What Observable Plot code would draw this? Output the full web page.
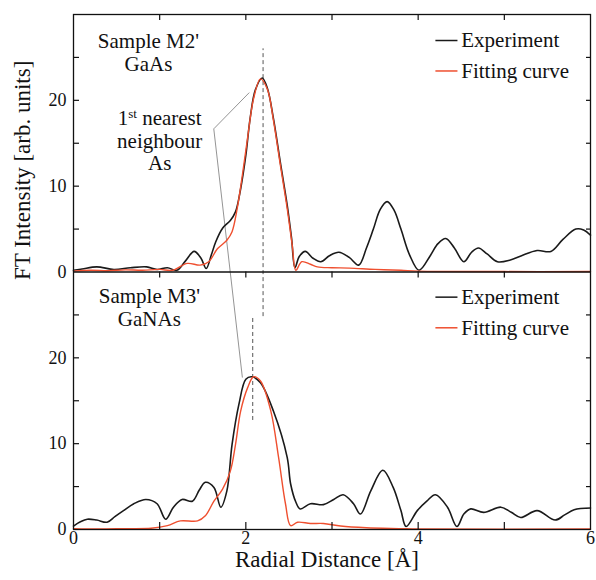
<!DOCTYPE html>
<html><head><meta charset="utf-8">
<script src="https://cdn.jsdelivr.net/npm/d3@7"></script>
<script src="https://cdn.jsdelivr.net/npm/@observablehq/plot@0.6"></script>
<style>
body{margin:0;background:#fff}
svg, svg text, svg tspan {font-family: "Liberation Serif", "Times New Roman", serif !important;}
</style>
</head><body><div id="chart"></div>
<script>
// ---- data (radial distance in Å, FT intensity in arb. units) ----
const m2ExpR  = [0,0.1,0.27,0.47,0.66,0.85,0.97,1.09,1.2,1.3,1.4,1.48,1.54,1.6,1.65,1.73,1.82,1.88,1.94,2.0,2.05,2.11,2.19,2.25,2.32,2.4,2.48,2.53,2.57,2.62,2.69,2.78,2.87,2.97,3.08,3.2,3.31,3.4,3.48,3.56,3.64,3.72,3.8,3.9,4.01,4.14,4.23,4.32,4.42,4.53,4.62,4.7,4.8,4.92,5.07,5.2,5.38,5.54,5.68,5.83,5.92,6.0];
const m2ExpFT = [0.2,0.35,0.6,0.3,0.5,0.6,0.3,0.5,0.2,1.3,2.4,1.6,0.4,2.0,3.5,5.1,6.0,7.0,9.7,13.6,17.9,21.2,22.6,21.4,17.9,12.8,7.8,4.0,0.5,1.8,2.4,1.6,1.2,1.9,2.3,1.7,0.8,2.8,5.0,7.3,8.2,7.2,5.0,2.0,0.2,1.9,3.3,3.9,2.8,1.2,2.3,2.8,2.1,1.2,1.4,1.9,2.5,2.4,3.8,5.0,4.9,4.3];
const m2FitR  = [0,0.2,0.4,0.6,0.8,1.0,1.15,1.32,1.47,1.57,1.67,1.78,1.84,1.9,1.96,2.02,2.09,2.17,2.25,2.32,2.4,2.48,2.54,2.58,2.65,2.75,2.83,3.0,3.2,3.5,3.8,4.0,5.0,6.0];
const m2FitFT = [0.1,0.2,0.15,0.25,0.2,0.3,0.2,1.0,0.8,1.2,2.7,3.7,4.7,7.4,11.3,15.6,20.2,22.5,21.3,17.7,12.5,7.4,3.0,0.2,1.2,0.9,0.6,0.5,0.45,0.3,0.2,0.1,0.05,0.05];
const m3ExpR  = [0,0.08,0.16,0.27,0.39,0.48,0.58,0.7,0.84,0.97,1.07,1.16,1.26,1.38,1.46,1.53,1.63,1.71,1.78,1.84,1.92,2.0,2.07,2.17,2.32,2.48,2.52,2.58,2.63,2.75,2.9,3.02,3.13,3.25,3.33,3.45,3.59,3.71,3.8,3.86,3.99,4.1,4.2,4.34,4.45,4.53,4.61,4.76,4.96,5.08,5.19,5.38,5.59,5.7,5.81,6.0];
const m3ExpFT = [0.4,0.9,1.2,1.1,0.85,1.5,2.2,3.0,3.5,3.0,1.2,2.6,3.5,3.3,4.6,5.5,4.9,2.6,4.5,9.9,14.6,17.5,17.8,17.1,13.8,8.4,5.3,3.2,2.4,3.0,2.9,3.5,4.05,3.0,1.8,4.5,6.9,4.9,2.2,0.35,2.2,3.3,4.05,2.6,0.35,1.8,2.4,2.0,2.6,2.0,1.4,2.2,1.1,1.7,2.3,2.5];
const m3FitR  = [0,0.3,0.6,0.9,1.09,1.24,1.44,1.53,1.63,1.73,1.82,1.88,1.94,2.02,2.09,2.17,2.29,2.38,2.46,2.52,2.6,2.75,2.9,3.1,3.4,3.8,4.0,6.0];
const m3FitFT = [0.1,0.05,0.1,0.15,0.45,1.0,1.0,1.6,3.3,4.7,6.8,9.9,13.8,16.5,17.8,17.3,13.8,8.4,3.0,0.45,0.85,0.7,0.7,0.4,0.2,0.1,0.05,0.05];

const panels = ["M2'", "M3'"];              // top, bottom
const panelTitles = ["Sample M2'\nGaAs", "Sample M3'\nGaNAs"];
const seriesNames = ["Experiment", "Fitting curve"];
const seriesColors = ["#1a1a1a", "#ef4f2f"];
const xTickLabels = [0, 2, 4, 6];
const yTickLabels = [0, 10, 20];
const peakR = [2.2, 2.08];                  // dashed markers (Å)

// ---- build table ----
const panelSpan = 30;                        // each panel spans 0–30 arb. units
const offset = p => (p === 0 ? panelSpan : 0);
function rows(R, V, panel, series) {
  return R.map((r, i) => ({r, v: V[i], y: V[i] + offset(panel), panel, series}));
}
const data = [
  ...rows(m2ExpR, m2ExpFT, 0, 0), ...rows(m2FitR, m2FitFT, 0, 1),
  ...rows(m3ExpR, m3ExpFT, 1, 0), ...rows(m3FitR, m3FitFT, 1, 1)
];

// ---- layout ----
const W = 596, H = 580, mL = 73, mR = 6, mT = 14, mB = 51;
const fw = W - mL - mR, fh = H - mT - mB;
const serif = "Liberation Serif";

const yAll = [];
for (let p = 0; p < 2; p++) yTickLabels.forEach(t => yAll.push(t + offset(p)));
const yMinor = d3.range(5, 2 * panelSpan, 5).filter(d => d !== panelSpan);
const xMinor = [1, 2, 3, 4, 5];

// annotation placement (data coordinates)
const titles = panelTitles.map((t, p) => ({t, x: p === 0 ? 0.87 : 0.88, y: (p === 0 ? 25.63 : 25.92) + offset(p)}));
const legend = [];
panels.forEach((_, p) => seriesNames.forEach((s, k) => legend.push({
  s, k, y: [[26.97, 23.42], [27.07, 23.5]][p][k] + offset(p)
})));
const dashes = [
  {x: peakR[0], y1: 24.8, y2: 26 + offset(0)},
  {x: peakR[1], y1: 12.7, y2: 24.6}
];
const pointer = [
  {x1: 1.628, y1: 46.68, x2: 2.04, y2: 50.9},
  {x1: 1.628, y1: 46.68, x2: 1.96, y2: 17.7}
];

const chart = Plot.plot({
  width: W, height: H,
  marginLeft: mL, marginRight: mR, marginTop: mT, marginBottom: mB,
  style: {fontFamily: serif, fontSize: "18px", color: "#111", background: "#fff"},
  x: {domain: [0, 6]},
  y: {domain: [0, 2 * panelSpan]},
  marks: [
    Plot.ruleX(dashes, {x: "x", y1: "y1", y2: "y2", stroke: "#555", strokeWidth: 1, strokeDasharray: "4,3"}),
    Plot.link(pointer, {x1: "x1", y1: "y1", x2: "x2", y2: "y2", stroke: "#888", strokeWidth: 0.9}),
    Plot.line(data.filter(d => d.series === 0), {x: "r", y: "y", z: "panel", stroke: seriesColors[0], strokeWidth: 1.6, curve: "catmull-rom"}),
    Plot.line(data.filter(d => d.series === 1), {x: "r", y: "y", z: "panel", stroke: seriesColors[1], strokeWidth: 1.4, curve: "catmull-rom"}),
    Plot.frame({stroke: "#111", strokeWidth: 1.3}),
    Plot.ruleY([panelSpan], {stroke: "#111", strokeWidth: 1.3}),
    // inward ticks
    Plot.tickY(yMinor, {y: d => d, insetRight: fw - 6, stroke: "#111", strokeWidth: 1.2}),
    Plot.tickY(yMinor, {y: d => d, insetLeft: fw - 4, stroke: "#111", strokeWidth: 1.2}),
    Plot.tickX(xMinor, {x: d => d, insetBottom: fh - 6, stroke: "#111", strokeWidth: 1.2}),
    Plot.tickX(xMinor, {x: d => d, insetTop: fh / 2, insetBottom: fh / 2 - 6, stroke: "#111", strokeWidth: 1.2}),
    Plot.tickX(xMinor, {x: d => d, insetTop: fh - 7, stroke: "#111", strokeWidth: 1.2}),
    Plot.axisY({ticks: yAll, tickFormat: d => String(d % panelSpan), tickSize: 0, tickPadding: 7, fontSize: 18, fontFamily: serif, label: null}),
    Plot.axisX({ticks: xTickLabels, tickFormat: d => String(d), tickSize: 0, tickPadding: 2, fontSize: 18, fontFamily: serif, label: null}),
    // panel titles
    Plot.text(titles, {x: "x", y: "y", text: "t", fontSize: 21, fontFamily: serif, lineHeight: 1.1, fill: "#111"}),
    Plot.text(["1st nearest\nneighbour\nAs"], {x: 1.0, y: 45.3, text: d => d, fontSize: 21, fontFamily: serif, lineHeight: 1.07, fill: "#111"}),
    // legends
    Plot.link(legend, {x1: 4.2, x2: 4.456, y1: "y", y2: "y", stroke: d => seriesColors[d.k], strokeWidth: 1.5}),
    Plot.text(legend, {x: 4.5, y: "y", text: "s", textAnchor: "start", fontSize: 21, fontFamily: serif, fill: "#111"}),
    // axis titles
    Plot.text(["Radial Distance [Å]"], {frameAnchor: "bottom", dy: 37, dx: -5, text: d => d, fontSize: 23, fontFamily: serif, fill: "#111"}),
    Plot.text(["FT Intensity [arb. units]"], {frameAnchor: "left", dx: -51, dy: 8, rotate: -90, text: d => d, fontSize: 23, fontFamily: serif, fill: "#111"})
  ]
});

// superscript "st"
const NS = "http://www.w3.org/2000/svg";
chart.querySelectorAll("text, tspan").forEach(el => {
  if (el.children.length === 0 && el.textContent === "1st nearest") {
    el.textContent = "1";
    const sup = document.createElementNS(NS, "tspan");
    sup.setAttribute("dy", "-7"); sup.setAttribute("font-size", "13"); sup.textContent = "st";
    const rest = document.createElementNS(NS, "tspan");
    rest.setAttribute("dy", "7"); rest.textContent = " nearest";
    el.appendChild(sup); el.appendChild(rest);
  }
});
document.getElementById("chart").appendChild(chart);
</script></body></html>
